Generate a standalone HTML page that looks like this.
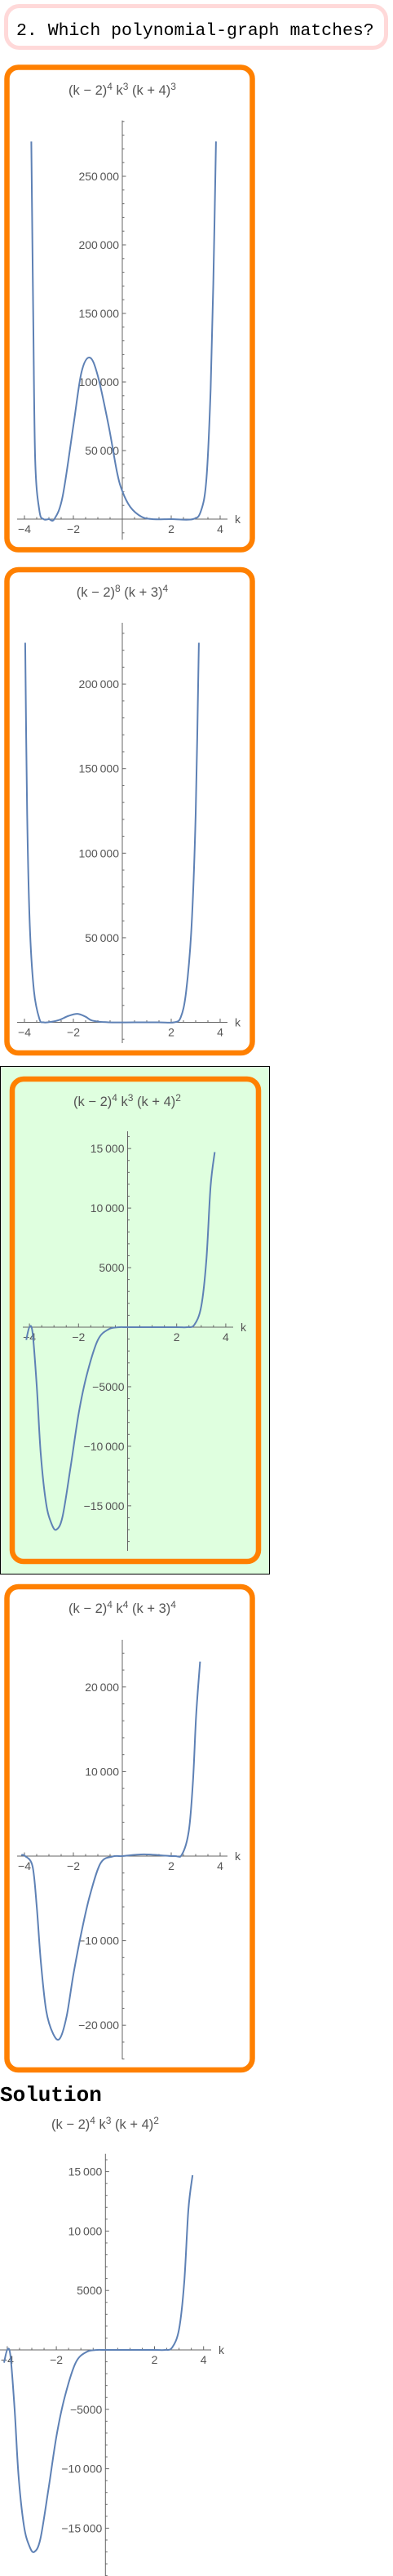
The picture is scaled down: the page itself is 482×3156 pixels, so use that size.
<!DOCTYPE html>
<html><head><meta charset="utf-8"><style>
html,body{margin:0;padding:0;background:#fff;}
body{width:482px;height:3156px;position:relative;overflow:hidden;}
svg{position:absolute;left:0;top:0;}
</style></head><body>
<svg id="page" width="482" height="3156" viewBox="0 0 482 3156" xmlns="http://www.w3.org/2000/svg">
  <rect x="7.5" y="7.5" width="466" height="51" rx="16" fill="#fff" stroke="#ffd9d9" stroke-width="5"/>
  <text x="20" y="43" font-family="Liberation Mono, monospace" font-size="21.5" fill="#000">2. Which polynomial-graph matches?</text>
  <rect x="0.5" y="1306.5" width="330" height="622" fill="#dfffdf" stroke="#000" stroke-width="1"/>
  <text x="0" y="2574" font-family="Liberation Mono, monospace" font-weight="bold" font-size="26" fill="#000">Solution</text>
  <g id="charts"></g>
</svg>
<script>
// ---- data: (k, value) samples ----
const c1K = [-3.72,-3.64,-3.56,-3.39,-3.22,-3.0,-2.78,-2.44,-2.0,-1.67,-1.33,-1.0,-0.56,-0.22,0,0.33,0.78,1.22,2.0,2.89,3.22,3.44,3.61,3.72,3.83];
const c1V = [275400,145700,42400,6200,0,0,0,16500,68200,107000,117800,104400,68200,34600,20400,8800,1800,0,0,0,6200,29500,94000,171500,275400];
const c2K = [-3.97,-3.89,-3.78,-3.61,-3.39,-3.22,-2.9,-2.56,-2.2,-1.83,-1.5,-1.22,-0.56,0.5,1.5,2.11,2.39,2.61,2.83,3.0,3.13];
const c2V = [224400,123500,56600,18300,2100,0,300,1500,3800,5000,3300,1000,0,0,0,0,3000,18300,56600,123500,224400];
const c3K = [-4.13,-4.0,-3.87,-3.7,-3.54,-3.32,-3.1,-2.9,-2.65,-2.32,-1.99,-1.65,-1.21,-0.77,-0.4,0,1.0,2.0,2.43,2.72,3.0,3.21,3.38,3.55];
const c3V = [-1070,0,-500,-5000,-10600,-14800,-16500,-17000,-15900,-11700,-7200,-3900,-1070,-170,-10,0,0,0,0,200,1740,5660,11800,14700];
const c4K = [-4.13,-3.97,-3.67,-3.5,-3.33,-3.11,-2.83,-2.56,-2.28,-2.0,-1.67,-1.33,-0.89,-0.4,0,0.89,2.11,2.44,2.72,2.89,3.02,3.18];
const c4V = [150,0,-1200,-5900,-12500,-18300,-21000,-21600,-19000,-14000,-9000,-4700,-850,-50,0,200,0,200,3000,8900,16700,23000];
const xTickVals = [-4,-2,2,4];
const xTickLabels = ["\u22124","\u22122","2","4"];
const yTicks1 = [50000,100000,150000,200000,250000];
const yTicks2 = [50000,100000,150000,200000];
const yTicks3 = [-15000,-10000,-5000,5000,10000,15000];
const yTicks4 = [-20000,-10000,10000,20000];
const title1 = [["(k \u2212 2)","4"],["\u00a0k","3"],["\u00a0(k + 4)","3"]];
const title2 = [["(k \u2212 2)","8"],["\u00a0(k + 3)","4"]];
const title3 = [["(k \u2212 2)","4"],["\u00a0k","3"],["\u00a0(k + 4)","2"]];
const title4 = [["(k \u2212 2)","4"],["\u00a0k","4"],["\u00a0(k + 3)","4"]];

const NS="http://www.w3.org/2000/svg";
const root=document.getElementById('charts');
function mk(tag,attrs,parent){const e=document.createElementNS(NS,tag);for(const k in attrs)e.setAttribute(k,attrs[k]);(parent||root).appendChild(e);return e;}
function fmt(v){const neg=v<0;let s=String(Math.abs(v));if(s.length>4)s=s.slice(0,s.length-3)+"\u2009"+s.slice(-3);return (neg?"\u2212":"")+s;}

function chart(o){
  const g=mk('g',{});
  
  
  if(o.box){
    const b=mk('rect',{x:o.box[0],y:o.box[1],width:o.box[2],height:o.box[3],rx:14,fill:o.fill||'#fff',stroke:'#ff8000','stroke-width':6.5},g);
    
    
  }
  const X=k=>o.ox+k*o.sx, Y=v=>o.oy-v*o.sy;
  // title
  const t=mk('text',{x:o.tx,y:o.ty,'text-anchor':'middle','font-family':'Liberation Sans, sans-serif','font-size':16.5,fill:'#555'},g);
  
  
  o.title.forEach((p,i)=>{const a=mk('tspan',i>0?{dy:6}:{},t);a.textContent=p[0];const s=mk('tspan',{dy:-6,'font-size':12},t);s.textContent=p[1];});
  // axes
  const ax=mk('line',{x1:o.xa[0],x2:o.xa[1],y1:o.oy,y2:o.oy,stroke:'#666','stroke-width':1},g);
  
  
  const ay=mk('line',{x1:o.ox,x2:o.ox,y1:o.ya[0],y2:o.ya[1],stroke:'#666','stroke-width':1},g);
  
  
  // x ticks
  for(let k=-4.5;k<=4.5;k+=0.5){const px=X(k);if(px<o.xa[0]||px>o.xa[1]||k===0)continue;const maj=Math.abs(k%2)<1e-9;mk('line',{x1:px,x2:px,y1:o.oy,y2:o.oy-(maj?4.5:2.5),stroke:'#666','stroke-width':1},g);}
  xTickVals.forEach((k,i)=>{const l=mk('text',{x:X(k),y:o.oy+17,'text-anchor':'middle','font-family':'Liberation Sans, sans-serif','font-size':14,fill:'#555'},g);l.textContent=xTickLabels[i];
    
    });
  const kl=mk('text',{x:o.xa[1]+9,y:o.oy+5,'font-family':'Liberation Sans, sans-serif','font-size':14,fill:'#555'},g);kl.textContent='k';
  
  
  // y ticks
  const vmin=(o.oy-o.ya[1])/o.sy, vmax=(o.oy-o.ya[0])/o.sy;
  for(let v=Math.ceil(vmin/o.minor)*o.minor;v<=vmax;v+=o.minor){if(Math.abs(v)<1e-9)continue;const maj=Math.abs(v%o.major)<1e-9;mk('line',{x1:o.ox,x2:o.ox+(maj?4.5:2.5),y1:Y(v),y2:Y(v),stroke:'#666','stroke-width':1},g);}
  o.yt.forEach(v=>{const l=mk('text',{x:o.ox-4,y:Y(v)+5,'text-anchor':'end','font-family':'Liberation Sans, sans-serif','font-size':14,fill:'#555'},g);l.textContent=fmt(v);
    
    });
  // curve (Catmull-Rom)
  const P=o.K.map((k,i)=>[X(k),Y(o.V[i])]);
  let d='M'+P[0][0].toFixed(2)+' '+P[0][1].toFixed(2);
  for(let i=0;i<P.length-1;i++){const p0=P[Math.max(0,i-1)],p1=P[i],p2=P[i+1],p3=P[Math.min(P.length-1,i+2)];
    const c1=[p1[0]+(p2[0]-p0[0])/6,p1[1]+(p2[1]-p0[1])/6],c2=[p2[0]-(p3[0]-p1[0])/6,p2[1]-(p3[1]-p1[1])/6];
    d+=' C'+c1.map(n=>n.toFixed(2)).join(' ')+' '+c2.map(n=>n.toFixed(2)).join(' ')+' '+p2[0].toFixed(2)+' '+p2[1].toFixed(2);}
  const c=mk('path',{d:d,fill:'none',stroke:'#5e81b5','stroke-width':2,'stroke-linejoin':'round'},g);
  
  
}
chart({name:'option-1-chart',box:[8.5,82.5,301,591],ox:150,oy:636,sx:30,sy:84/50000,xa:[21,279],ya:[147.6,661.3],yt:yTicks1,minor:10000,major:50000,K:c1K,V:c1V,title:title1,tx:150,ty:116});
chart({name:'option-2-chart',box:[8.5,698,301,592],ox:150,oy:1252.5,sx:30,sy:103.6/50000,xa:[21,279],ya:[763,1278],yt:yTicks2,minor:10000,major:50000,K:c2K,V:c2V,title:title2,tx:150,ty:731});
chart({name:'option-3-chart',box:[15,1322,302,591],fill:'#dfffdf',ox:156.5,oy:1626,sx:30.1,sy:72.95/5000,xa:[28,286],ya:[1386,1900],yt:yTicks3,minor:1000,major:5000,K:c3K,V:c3V,title:title3,tx:156,ty:1355});
chart({name:'option-4-chart',box:[8.5,1944,301,592],ox:150,oy:2274,sx:30,sy:103.6/10000,xa:[21,279],ya:[2009,2523],yt:yTicks4,minor:2000,major:10000,K:c4K,V:c4V,title:title4,tx:150,ty:1976});
chart({name:'solution-chart',ox:129.3,oy:2879,sx:30.1,sy:72.8/5000,xa:[0,259],ya:[2638.7,3156],yt:yTicks3,minor:1000,major:5000,K:c3K,V:c3V,title:title3,tx:129,ty:2608});
</script>
</body></html>
